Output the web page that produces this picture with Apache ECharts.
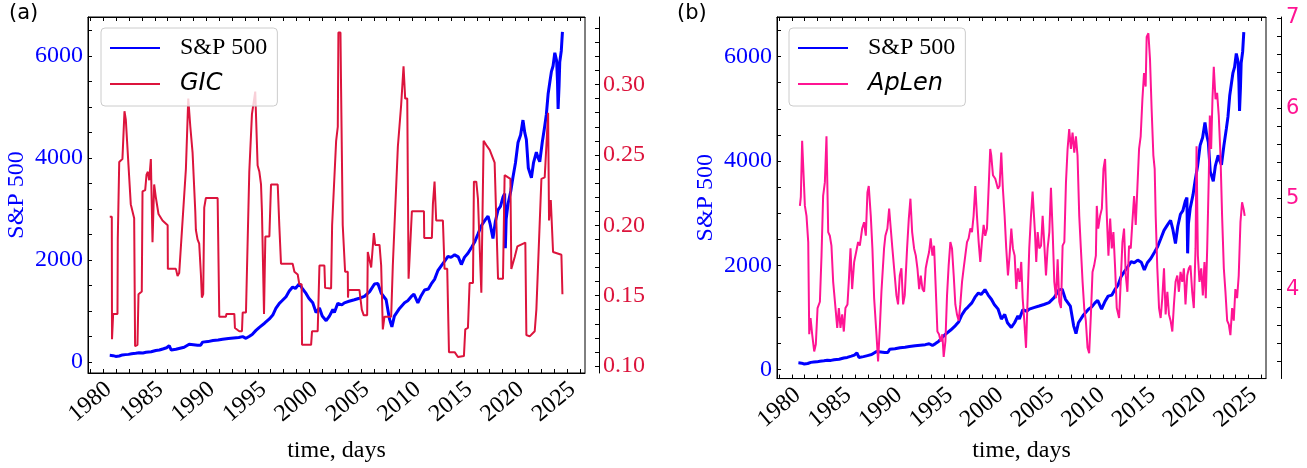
<!DOCTYPE html>
<html><head><meta charset="utf-8">
<script src="https://cdn.jsdelivr.net/npm/echarts@6/dist/echarts.min.js"></script>
<style>html,body{margin:0;padding:0;background:#fff}#c{width:1307px;height:468px}</style>
</head><body><div id="c"></div>
<script>
// ---- data ----
const spTime = [1981.88,1982.20,1982.46,1982.80,1983.11,1983.40,1983.70,1984.00,1984.40,1984.73,1985.10,1985.40,1985.90,1986.35,1986.70,1987.10,1987.40,1987.65,1987.80,1987.85,1988.00,1988.30,1988.70,1989.10,1989.59,1990.00,1990.40,1990.56,1990.70,1990.89,1991.40,1991.90,1992.40,1992.83,1993.40,1993.90,1994.40,1994.78,1995.10,1995.40,1995.70,1996.07,1996.40,1996.90,1997.37,1997.70,1998.00,1998.34,1998.60,1998.99,1999.30,1999.63,1999.90,2000.28,2000.60,2000.93,2001.20,2001.58,2001.90,2002.23,2002.50,2002.88,2003.20,2003.53,2003.68,2004.01,2004.40,2004.65,2005.10,2005.62,2006.10,2006.60,2007.10,2007.57,2007.90,2008.22,2008.70,2009.03,2009.26,2009.50,2010.00,2010.49,2010.80,2011.13,2011.40,2011.78,2012.10,2012.43,2012.80,2013.08,2013.40,2013.72,2014.10,2014.40,2014.70,2015.00,2015.35,2015.70,2016.00,2016.30,2016.64,2017.00,2017.29,2017.60,2017.94,2018.30,2018.59,2018.80,2019.07,2019.30,2019.56,2019.80,2020.04,2020.20,2020.27,2020.35,2020.53,2020.80,2021.00,2021.25,2021.50,2021.75,2021.98,2022.15,2022.31,2022.50,2022.80,2023.00,2023.28,2023.45,2023.61,2023.85,2024.09,2024.25,2024.42,2024.60,2024.74,2024.90,2025.07,2025.25,2025.33,2025.39,2025.48,2025.55,2025.70,2025.81];
const spValue = [132,125,110,118,140,145,150,162,170,180,178,190,200,225,235,260,280,320,335,235,240,250,270,290,350,340,330,300,330,390,400,420,430,445,460,470,480,497,465,500,540,620,680,760,845,920,1050,1150,1200,1280,1390,1470,1440,1535,1430,1345,1250,1160,970,1060,900,810,900,1030,970,1150,1120,1160,1190,1220,1250,1285,1380,1530,1540,1350,1220,840,690,900,1050,1160,1200,1280,1330,1160,1300,1410,1430,1530,1620,1790,1900,1980,2070,2050,2100,2060,1910,2050,2130,2250,2350,2500,2670,2780,2860,2700,2420,2750,2980,3050,3230,3300,2230,2800,3100,3350,3610,3900,4300,4450,4740,4500,4360,3800,3610,3900,4110,4000,3925,4300,4620,4850,5250,5500,5690,5800,6060,5900,5500,4960,5400,5875,6100,6470];

const gicTime = [1981.88,1982.08,1982.10,1982.18,1982.21,1982.63,1982.66,1982.80,1983.11,1983.31,1983.44,1983.70,1983.92,1984.25,1984.34,1984.57,1984.67,1984.99,1985.06,1985.32,1985.45,1985.58,1985.71,1985.87,1986.03,1986.19,1986.35,1986.61,1987.00,1987.50,1987.52,1988.30,1988.46,1988.62,1989.27,1989.50,1989.70,1989.92,1990.18,1990.24,1990.40,1990.56,1990.73,1990.82,1990.95,1991.05,1991.21,1992.35,1992.50,1992.51,1993.16,1993.20,1993.97,1994.03,1994.45,1994.71,1994.78,1995.10,1995.42,1995.68,1996.00,1996.23,1996.40,1996.56,1996.65,1996.85,1996.98,1997.37,1997.53,1998.18,1998.34,1998.50,1999.63,1999.80,2000.12,2000.28,2000.50,2000.54,2001.42,2001.51,2002.06,2002.23,2002.71,2002.78,2003.36,2003.46,2003.85,2004.01,2004.07,2004.27,2004.33,2004.49,2004.72,2004.98,2005.00,2005.04,2006.11,2006.34,2006.53,2006.86,2006.92,2007.25,2007.51,2007.64,2008.06,2008.22,2008.38,2008.54,2009.19,2009.35,2009.84,2010.16,2010.39,2010.55,2010.75,2010.88,2011.20,2012.37,2012.40,2013.14,2013.24,2013.40,2013.56,2014.21,2014.37,2014.63,2014.80,2015.35,2015.67,2016.25,2016.38,2016.64,2016.80,2017.13,2017.22,2017.45,2017.61,2017.94,2018.16,2018.42,2018.75,2019.23,2019.40,2019.56,2020.04,2020.20,2020.76,2020.85,2021.18,2021.44,2022.21,2022.31,2022.63,2023.12,2023.28,2023.77,2024.09,2024.42,2024.51,2024.68,2024.80,2024.90,2025.71,2025.81];
const gicValue = [0.206,0.206,0.119,0.119,0.137,0.137,0.19,0.245,0.247,0.281,0.275,0.2425,0.215,0.205,0.114,0.115,0.151,0.153,0.224,0.225,0.236,0.238,0.232,0.247,0.188,0.229,0.22,0.208,0.2034,0.200,0.169,0.169,0.164,0.166,0.24,0.29,0.27,0.2514,0.21,0.1966,0.19,0.187,0.1646,0.1486,0.151,0.2125,0.2194,0.2194,0.22,0.135,0.135,0.137,0.137,0.127,0.1247,0.1247,0.138,0.138,0.2377,0.279,0.295,0.2425,0.238,0.229,0.21,0.137,0.192,0.192,0.229,0.229,0.199,0.1726,0.1726,0.167,0.165,0.158,0.158,0.115,0.115,0.1247,0.1247,0.1714,0.1714,0.1555,0.155,0.20,0.26,0.27,0.337,0.337,0.297,0.2,0.167,0.167,0.1486,0.154,0.154,0.14,0.136,0.136,0.181,0.17,0.1945,0.186,0.186,0.1714,0.126,0.135,0.135,0.1714,0.256,0.2856,0.313,0.29,0.29,0.162,0.21,0.21,0.191,0.191,0.215,0.231,0.2034,0.2034,0.169,0.169,0.1098,0.1098,0.1064,0.107,0.126,0.127,0.159,0.159,0.231,0.231,0.219,0.152,0.26,0.257,0.2536,0.2445,0.2445,0.162,0.162,0.2356,0.233,0.169,0.1774,0.185,0.1877,0.122,0.121,0.1247,0.14,0.233,0.234,0.28,0.2034,0.218,0.218,0.181,0.179,0.151];

const apTime = [1982.03,1982.12,1982.25,1982.35,1982.52,1982.68,1982.85,1982.95,1983.08,1983.24,1983.44,1983.60,1983.77,1984.00,1984.16,1984.32,1984.49,1984.65,1984.82,1984.98,1985.14,1985.31,1985.54,1985.71,1985.87,1986.03,1986.20,1986.36,1986.52,1986.72,1986.85,1987.02,1987.18,1987.38,1987.61,1987.77,1987.94,1988.17,1988.36,1988.53,1988.69,1988.82,1989.02,1989.18,1989.35,1989.58,1989.74,1989.91,1990.07,1990.33,1990.46,1990.66,1990.83,1990.99,1991.15,1991.32,1991.55,1991.71,1991.88,1992.04,1992.21,1992.37,1992.60,1992.77,1992.93,1993.10,1993.29,1993.46,1993.62,1993.79,1993.95,1994.12,1994.28,1994.44,1994.61,1994.77,1994.93,1995.10,1995.26,1995.43,1995.59,1995.75,1995.92,1996.08,1996.21,1996.38,1996.54,1996.70,1996.87,1997.03,1997.20,1997.36,1997.52,1997.69,1997.85,1998.02,1998.18,1998.34,1998.51,1998.67,1998.84,1999.00,1999.16,1999.33,1999.49,1999.66,1999.82,1999.98,2000.15,2000.31,2000.48,2000.64,2000.80,2000.90,2001.07,2001.30,2001.56,2001.72,2001.89,2002.05,2002.22,2002.38,2002.55,2002.71,2002.88,2003.04,2003.21,2003.37,2003.53,2003.70,2003.86,2004.00,2004.16,2004.33,2004.49,2004.65,2004.82,2004.98,2005.08,2005.21,2005.34,2005.48,2005.64,2005.81,2005.97,2006.14,2006.30,2006.46,2006.63,2006.79,2006.96,2007.12,2007.29,2007.45,2007.61,2007.78,2007.94,2008.11,2008.27,2008.43,2008.59,2008.76,2008.92,2009.09,2009.25,2009.41,2009.58,2009.74,2009.91,2010.07,2010.23,2010.40,2010.56,2010.73,2010.89,2011.05,2011.22,2011.31,2011.45,2011.64,2011.81,2011.97,2012.13,2012.30,2012.46,2012.63,2012.79,2012.95,2013.12,2013.28,2013.51,2013.67,2013.84,2014.00,2014.17,2014.33,2014.49,2014.66,2014.82,2014.99,2015.15,2015.31,2015.48,2015.64,2015.81,2015.97,2016.13,2016.23,2016.40,2016.56,2016.72,2016.89,2017.02,2017.12,2017.28,2017.45,2017.61,2017.77,2017.94,2018.10,2018.27,2018.43,2018.59,2018.76,2018.92,2019.08,2019.25,2019.41,2019.57,2019.74,2019.90,2020.06,2020.23,2020.39,2020.55,2020.72,2020.88,2021.05,2021.15,2021.28,2021.44,2021.61,2021.77,2021.93,2022.06,2022.20,2022.36,2022.46,2022.59,2022.72,2022.85,2023.02,2023.18,2023.34,2023.51,2023.67,2023.84,2024.00,2024.17,2024.33,2024.49,2024.66,2024.82,2024.98,2025.15,2025.31,2025.48,2025.64,2025.80,2025.90];
const apValue = [4.92,5.02,5.64,5.62,4.92,4.81,4.52,3.50,3.68,3.50,3.31,3.39,3.79,3.86,4.37,5.03,5.18,5.69,4.63,4.59,4.48,4.08,3.79,3.57,3.79,3.57,3.72,3.53,3.79,3.83,4.08,4.45,4.00,4.30,4.43,4.52,4.48,4.67,4.74,4.59,5.07,5.14,4.81,4.45,3.90,3.50,3.20,3.57,3.97,4.45,4.59,4.67,4.89,4.67,4.45,4.23,3.93,3.83,4.15,4.23,3.83,3.93,4.45,4.78,5.00,4.63,4.45,4.37,4.23,4.00,4.15,4.00,3.97,4.23,4.33,4.41,4.56,4.37,4.48,4.00,3.53,3.50,3.42,3.50,3.25,3.42,3.93,4.26,4.52,4.45,4.15,3.83,3.72,3.65,3.83,4.08,4.23,4.37,4.52,4.56,4.67,4.63,4.81,5.14,4.81,4.52,4.30,4.52,4.71,4.59,4.67,5.11,5.55,5.48,5.26,5.22,5.11,5.14,5.51,5.11,4.81,4.45,4.15,4.37,4.67,4.45,4.37,4.00,4.23,4.08,4.30,3.90,3.65,3.35,3.90,4.45,4.81,5.08,4.88,4.63,4.30,4.63,4.45,4.48,4.81,4.48,4.15,4.45,4.63,5.12,4.63,4.08,3.90,4.33,3.86,3.79,4.48,4.52,5.18,5.55,5.77,5.55,5.73,5.51,5.69,5.48,4.81,4.45,4.08,3.79,3.65,3.35,3.29,3.72,4.19,4.26,4.37,4.92,4.67,4.81,4.89,5.33,5.44,4.81,4.37,4.78,4.45,4.63,4.23,3.79,3.68,4.08,4.52,4.67,4.15,3.97,4.48,4.45,4.74,5.03,4.71,5.11,5.55,5.69,6.10,6.39,6.24,6.79,6.83,6.54,5.99,5.48,5.33,4.81,4.23,3.79,3.68,3.90,4.23,3.72,3.97,3.72,3.65,3.53,3.83,4.08,4.15,3.97,4.19,4.08,4.23,3.83,4.15,4.23,4.26,3.97,3.79,4.45,5.58,4.37,4.08,4.23,3.93,4.30,3.90,4.45,5.26,5.92,5.55,6.10,6.46,6.10,6.17,5.92,5.48,4.81,4.23,3.97,3.65,3.61,3.49,3.79,3.65,4.00,3.90,4.15,4.74,4.96,4.88,4.81];

// ---- tick labels ----
const xLabels = [1980,1985,1990,1995,2000,2005,2010,2015,2020,2025];
const xTicks = [1980,1981.25,1982.5,1983.75,1985,1986.25,1987.5,1988.75,1990,1991.25,1992.5,1993.75,1995,1996.25,1997.5,1998.75,2000,2001.25,2002.5,2003.75,2005,2006.25,2007.5,2008.75,2010,2011.25,2012.5,2013.75,2015,2016.25,2017.5,2018.75,2020,2021.25,2022.5,2023.75,2025,2026.25,2027.5];
const spLabels = [0,2000,4000,6000];
const spTicks = [0,500,1000,1500,2000,2500,3000,3500,4000,4500,5000,5500,6000,6500];
const gicLabels = [0.10,0.15,0.20,0.25,0.30];
const gicTicks = [0.10,0.11,0.12,0.13,0.14,0.15,0.16,0.17,0.18,0.19,0.20,0.21,0.22,0.23,0.24,0.25,0.26,0.27,0.28,0.29,0.30,0.31,0.32,0.33,0.34];
const apLabels = [4,5,6,7];
const apTicks = [3.2,3.4,3.6,3.8,4.0,4.2,4.4,4.6,4.8,5.0,5.2,5.4,5.6,5.8,6.0,6.2,6.4,6.6,6.8,7.0];

const BLUE = '#0000ff', CRIMSON = '#dc143c', PINK = '#ff1493';
const SERIF = 'Liberation Serif', SANS = 'DejaVu Sans';
const zip = (a, b) => a.map((v, i) => [v, b[i]]);

const XMIN = 1979.77, XMAX = 2028.0;
function xBottom(grid, gap) {
  return {
    type: 'value', gridIndex: grid, min: XMIN, max: XMAX, position: 'bottom',
    axisLine: { show: true, onZero: false, lineStyle: { color: '#000', width: 1 } },
    axisTick: { show: true, inside: true, length: 4, customValues: xTicks, lineStyle: { color: '#000' } },
    axisLabel: { customValues: xLabels, rotate: 40, align: 'center', verticalAlign: 'middle', margin: 29,
      fontFamily: SERIF, fontSize: 24, color: '#000', formatter: v => String(Math.round(v)) },
    splitLine: { show: false },
    name: 'time, days', nameLocation: 'middle', nameGap: gap,
    nameTextStyle: { fontFamily: SERIF, fontSize: 24, color: '#000' }
  };
}
function xTop(grid) {
  return {
    type: 'value', gridIndex: grid, min: XMIN, max: XMAX, position: 'top',
    axisLine: { show: true, onZero: false, lineStyle: { color: '#000', width: 1 } },
    axisTick: { show: true, inside: true, length: 4, customValues: xTicks, lineStyle: { color: '#000' } },
    axisLabel: { show: false }, splitLine: { show: false }
  };
}
function ySP(grid, min, max, gap) {
  return {
    type: 'value', gridIndex: grid, min: min, max: max, position: 'left',
    axisLine: { show: true, onZero: false, lineStyle: { color: '#000', width: 1 } },
    axisTick: { show: true, inside: true, length: 4, customValues: spTicks, lineStyle: { color: '#000' } },
    axisLabel: { customValues: spLabels, margin: 5, fontFamily: SERIF, fontSize: 24, color: BLUE,
      formatter: v => String(Math.round(v)) },
    splitLine: { show: false },
    name: 'S&P 500', nameLocation: 'middle', nameRotate: 90, nameGap: gap,
    nameTextStyle: { fontFamily: SERIF, fontSize: 24, color: BLUE }
  };
}

const legendBase = {
  orient: 'vertical', icon: 'rect', itemWidth: 50, itemHeight: 2.2, itemGap: 12,
  backgroundColor: 'rgba(255,255,255,0.8)', borderColor: '#cccccc', borderWidth: 1, borderRadius: 4,
  padding: [8, 10, 10, 9], selectedMode: false,
  textStyle: { fontSize: 24, color: '#000', padding: [0, 0, 0, 15] }
};

const option = {
  animation: false,
  backgroundColor: '#fff',
  grid: [
    { left: 88, top: 17, width: 497, height: 369, show: true, borderColor: '#000', borderWidth: 1, backgroundColor: 'transparent' },
    { left: 777, top: 17, width: 489, height: 364, show: true, borderColor: '#000', borderWidth: 1, backgroundColor: 'transparent' }
  ],
  xAxis: [xBottom(0, 66), xTop(0), xBottom(1, 55), xTop(1)],
  yAxis: [
    ySP(0, -215, 6760, 59),
    { type: 'value', gridIndex: 0, min: 0.095, max: 0.348, position: 'right', offset: 14,
      axisLine: { show: true, onZero: false, lineStyle: { color: '#000', width: 1 } },
      axisTick: { show: true, inside: true, length: 4, customValues: gicTicks, lineStyle: { color: '#000' } },
      axisLabel: { customValues: gicLabels, margin: 4, fontFamily: SERIF, fontSize: 24, color: CRIMSON, formatter: v => v.toFixed(2) },
      splitLine: { show: false } },
    ySP(1, -170, 6760, 59),
    { type: 'value', gridIndex: 1, min: 3.01, max: 7.01, position: 'right', offset: 15,
      axisLine: { show: true, onZero: false, lineStyle: { color: '#000', width: 1 } },
      axisTick: { show: true, inside: true, length: 4, customValues: apTicks, lineStyle: { color: '#000' } },
      axisLabel: { customValues: apLabels, margin: 5, fontFamily: SANS, fontSize: 21, color: PINK, formatter: v => String(Math.round(v)) },
      splitLine: { show: false } }
  ],
  legend: [
    Object.assign({}, legendBase, { left: 101, top: 28,
      data: [ { name: 'S&P 500', textStyle: { fontFamily: SERIF } },
              { name: 'GIC', textStyle: { fontFamily: SANS, fontStyle: 'italic' } } ] }),
    Object.assign({}, legendBase, { left: 789, top: 28,
      data: [ { name: 'S&P 500', textStyle: { fontFamily: SERIF } },
              { name: 'ApLen', textStyle: { fontFamily: SANS, fontStyle: 'italic' } } ] })
  ],
  graphic: [
    { type: 'text', left: 9, top: 3, style: { text: '(a)', fontFamily: SANS, fontSize: 21, fill: '#000' } },
    { type: 'text', left: 677, top: 3, style: { text: '(b)', fontFamily: SANS, fontSize: 21, fill: '#000' } }
  ],
  series: [
    { name: 'S&P 500', type: 'line', xAxisIndex: 0, yAxisIndex: 0, data: zip(spTime, spValue),
      symbol: 'none', color: BLUE, lineStyle: { color: BLUE, width: 3 }, z: 2 },
    { name: 'GIC', type: 'line', xAxisIndex: 0, yAxisIndex: 1, data: zip(gicTime, gicValue),
      symbol: 'none', color: CRIMSON, lineStyle: { color: CRIMSON, width: 2 }, z: 3 },
    { name: 'S&P 500', type: 'line', xAxisIndex: 2, yAxisIndex: 2, data: zip(spTime, spValue),
      symbol: 'none', color: BLUE, lineStyle: { color: BLUE, width: 3 }, z: 2 },
    { name: 'ApLen', type: 'line', xAxisIndex: 2, yAxisIndex: 3, data: zip(apTime, apValue),
      symbol: 'none', color: PINK, lineStyle: { color: PINK, width: 2 }, z: 3 }
  ]
};
const chart = echarts.init(document.getElementById('c'), null, { renderer: 'canvas' });
chart.setOption(option);
</script></body></html>
